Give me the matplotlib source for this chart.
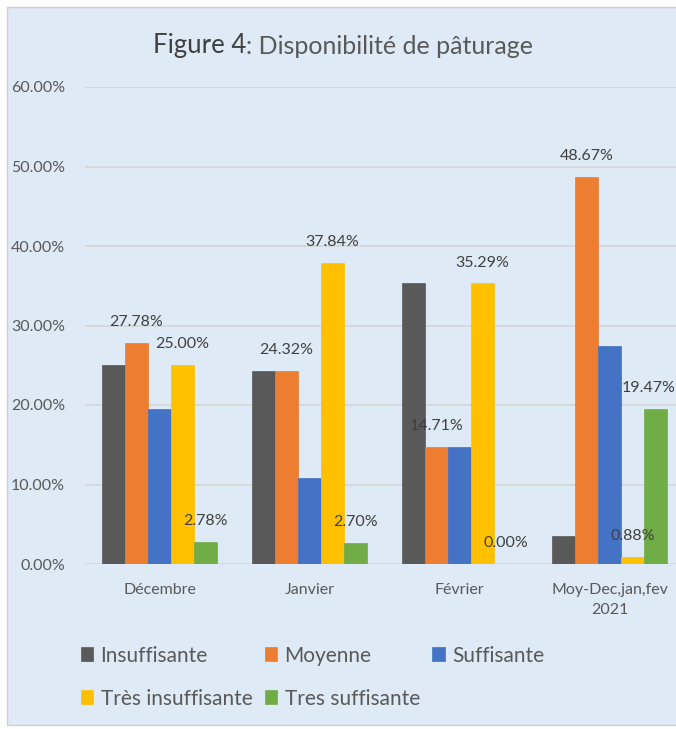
import matplotlib
matplotlib.use("Agg")
import matplotlib.pyplot as plt
import numpy as np
from matplotlib.patches import Rectangle

categories = ["Décembre", "Janvier", "Février", "Moy-Dec,jan,fev\n2021"]
series_names = ["Insuffisante", "Moyenne", "Suffisante", "Très insuffisante", "Tres suffisante"]
insuffisante = [25.00, 24.32, 35.29, 3.54]
moyenne = [27.78, 24.32, 14.71, 48.67]
suffisante = [19.44, 10.81, 14.71, 27.43]
tres_insuffisante = [25.00, 37.84, 35.29, 0.88]
tres_suffisante = [2.78, 2.70, 0.00, 19.47]
yticks = [0, 10, 20, 30, 40, 50, 60]

values = [insuffisante, moyenne, suffisante, tres_insuffisante, tres_suffisante]
colors = ["#595959", "#ED7D31", "#4472C4", "#FFC000", "#70AD47"]
labelled = [False, True, False, True, True]

W, H = 676, 729
fig = plt.figure(figsize=(W / 100, H / 100), dpi=100)
fig.patch.set_facecolor("white")
bg = "#DEEAF6"
fig.patches.append(Rectangle((7 / W, 4 / H), 1.2, (H - 7 - 4) / H,
                             transform=fig.transFigure, facecolor=bg,
                             edgecolor="#D0D0D0", linewidth=1.0, zorder=-10))

ax = fig.add_axes([84.5 / W, (H - 564) / H, 600 / W, 477 / H])
ax.set_facecolor(bg)
ax.patch.set_alpha(0)

x = np.arange(len(categories))
bw = 0.153
text_color = "#595959"
for i, (name, vals, c) in enumerate(zip(series_names, values, colors)):
    pos = x + (i - 2) * bw
    ax.bar(pos, vals, width=bw, color=c, label=name, zorder=3,
           edgecolor=c, linewidth=0.5)
    if labelled[i]:
        for j, (p, v) in enumerate(zip(pos, vals)):
            dx = -5 if (j == len(categories) - 1 and i == 4) else 0
            ax.annotate(f"{v:.2f}%", (p, v), xytext=(dx, 15), textcoords="offset points",
                        ha="center", va="center", fontsize=11.5, color="#404040",
                        family=["Lato", "DejaVu Sans"], zorder=4)

ax.set_xlim(-0.5, len(categories) - 0.5)
ax.set_ylim(0, 60)
ax.set_yticks(yticks)
ax.set_yticklabels([f"{t:.2f}%" for t in yticks])
ax.set_xticks(x)
ax.set_xticklabels(categories)
for lab in ax.get_xticklabels() + ax.get_yticklabels():
    lab.set_family(["Lato", "DejaVu Sans"])
    lab.set_fontsize(11.5)
    lab.set_color(text_color)
for lab in ax.get_xticklabels():
    lab.set_linespacing(1.5)
ax.tick_params(axis="y", length=0, pad=14)
ax.tick_params(axis="x", length=0, pad=14)
ax.grid(axis="y", color="#D5D5D5", linewidth=1.2, zorder=0)
for s in ax.spines.values():
    s.set_visible(False)

handles, labels = ax.get_legend_handles_labels()
order = [0, 3, 1, 4, 2]
leg = fig.legend([handles[k] for k in order], [labels[k] for k in order],
                 loc="upper left", bbox_to_anchor=(62 / W, 1 - 627 / H), ncol=3,
                 frameon=False, handlelength=0.6, handleheight=0.65, handletextpad=0.35,
                 columnspacing=0.6, labelspacing=1.1,
                 prop={"family": ["Lato", "DejaVu Sans"], "size": 15})
for t in leg.get_texts():
    t.set_color(text_color)

# Title in two parts
t1 = fig.text(153 / W, 1 - 46 / H, "Figure 4", fontsize=18.5, color="#404040",
              family=["Liberation Sans Narrow", "Lato", "DejaVu Sans"], va="center", ha="left")
fig.canvas.draw()
r = fig.canvas.get_renderer()
bb = t1.get_window_extent(r)
fig.text(bb.x1 / W, 1 - 46 / H, ": Disponibilité de pâturage", fontsize=18, color=text_color,
         family=["Lato", "DejaVu Sans"], va="center", ha="left")

fig.savefig("out.png", dpi=100, facecolor="white")
